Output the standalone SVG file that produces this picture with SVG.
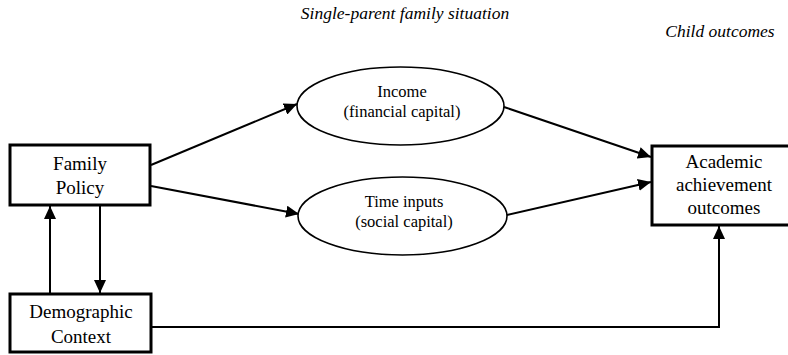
<svg xmlns="http://www.w3.org/2000/svg" width="788" height="355" viewBox="0 0 788 355">
<style>
.box{fill:#fff;stroke:#000;stroke-width:3}
.ell{fill:#fff;stroke:#000;stroke-width:1.6}
.t{font-family:"Liberation Serif","Times New Roman",serif;font-size:19px;fill:#000;text-anchor:middle}
.te{font-family:"Liberation Serif","Times New Roman",serif;font-size:16.5px;fill:#000;text-anchor:middle}
.hd{font-family:"Liberation Serif","Times New Roman",serif;font-size:17.5px;font-style:italic;fill:#000;text-anchor:middle}
.c{fill:none;stroke:#000;stroke-width:2}
</style>
<defs>
<marker id="ah" markerUnits="userSpaceOnUse" markerWidth="14" markerHeight="12" refX="13" refY="6" orient="auto">
<path d="M0,0 L13,6 L0,12 z" fill="#000"/>
</marker>
</defs>
<rect width="788" height="355" fill="#fff"/>
<text class="hd" x="405" y="19">Single-parent family situation</text>
<text class="hd" x="720" y="37">Child outcomes</text>
<g id="connectors">
<line class="c" x1="151" y1="165" x2="297" y2="104" marker-end="url(#ah)"/>
<line class="c" x1="151" y1="186" x2="299" y2="214" marker-end="url(#ah)"/>
<line class="c" x1="504" y1="107" x2="651" y2="157" marker-end="url(#ah)"/>
<line class="c" x1="507" y1="215" x2="651" y2="182" marker-end="url(#ah)"/>
<line class="c" x1="50" y1="293" x2="50" y2="206" marker-end="url(#ah)"/>
<line class="c" x1="100" y1="206" x2="100" y2="293" marker-end="url(#ah)"/>
<polyline class="c" points="152,327 719,327 719,226" marker-end="url(#ah)"/>
</g>
<g id="family-policy">
<rect class="box" x="10" y="145" width="140" height="60"/>
<text class="t" x="80" y="170">Family</text>
<text class="t" x="80" y="194">Policy</text>
</g>
<g id="demographic-context">
<rect class="box" x="10" y="294" width="141" height="58"/>
<text class="t" x="81" y="318">Demographic</text>
<text class="t" x="81" y="343">Context</text>
</g>
<g id="income">
<ellipse class="ell" cx="400.5" cy="106" rx="103.5" ry="39"/>
<text class="te" x="402" y="97">Income</text>
<text class="te" x="402" y="117">(financial capital)</text>
</g>
<g id="time-inputs">
<ellipse class="ell" cx="402.5" cy="216" rx="104.5" ry="39"/>
<text class="te" x="404" y="207">Time inputs</text>
<text class="te" x="404" y="227">(social capital)</text>
</g>
<g id="academic-achievement">
<rect class="box" x="652" y="146" width="146" height="79"/>
<text class="t" x="724" y="168">Academic</text>
<text class="t" x="724" y="191">achievement</text>
<text class="t" x="724" y="214">outcomes</text>
</g>
</svg>
